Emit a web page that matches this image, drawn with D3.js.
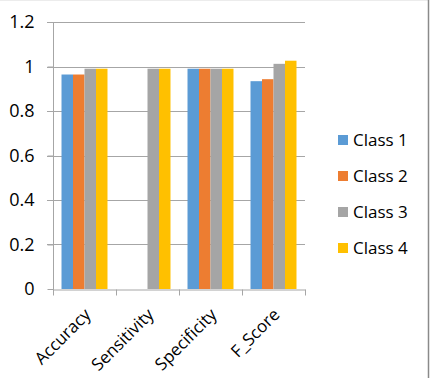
<!DOCTYPE html>
<html lang="en">
<head>
    <meta charset="UTF-8">
    <title>Class metrics</title>
    <script src="https://d3js.org/d3.v7.min.js"></script>
    <style>
        body {
            margin: 0;
            background: #fff;
            font-family: 'Open Sans', 'Noto Sans', sans-serif;
        }
        text { fill: #000; }
    </style>
</head>
<body>
    <svg width="430" height="378"></svg>
    <script>
        // chart data
        const categories = ["Accuracy", "Sensitivity", "Specificity", "F_Score"];
        const seriesNames = ["Class 1", "Class 2", "Class 3", "Class 4"];
        const class1 = [0.964, 0, 0.99, 0.934];
        const class2 = [0.964, 0, 0.99, 0.943];
        const class3 = [0.99, 0.99, 0.99, 1.012];
        const class4 = [0.99, 0.99, 0.99, 1.026];
        const yTicks = [0, 0.2, 0.4, 0.6, 0.8, 1, 1.2];
        const colors = ["#5B9BD5", "#ED7D31", "#A5A5A5", "#FFC000"];

        const series = [class1, class2, class3, class4];

        const svg = d3.select("svg");
        const margin = {left: 53, right: 125, top: 22, bottom: 89};
        const width = 430, height = 378;

        // outer frame
        svg.append("line")
            .attr("x1", 0).attr("x2", 428).attr("y1", 0.5).attr("y2", 0.5)
            .attr("stroke", "#ececec");
        svg.append("line")
            .attr("x1", 428.5).attr("x2", 428.5).attr("y1", 0).attr("y2", height)
            .attr("stroke", "#8a8a8a").attr("stroke-width", 1.5);

        const x = d3.scaleBand()
            .domain(categories)
            .range([margin.left, width - margin.right]);

        const xInner = d3.scaleBand()
            .domain(seriesNames)
            .range([0, x.bandwidth()])
            .paddingOuter(0.74);

        const y = d3.scaleLinear()
            .domain([0, 1.2])
            .range([height - margin.bottom, margin.top]);

        // gridlines
        svg.append("g")
            .selectAll("line")
            .data(yTicks.slice(1))
            .join("line")
            .attr("x1", margin.left - 6)
            .attr("x2", width - margin.right)
            .attr("y1", d => Math.round(y(d)) + 0.5)
            .attr("y2", d => Math.round(y(d)) + 0.5)
            .attr("stroke", "#a6a6a6");

        // bars
        const groups = svg.append("g")
            .selectAll("g")
            .data(series)
            .join("g")
            .attr("fill", (d, i) => colors[i]);

        groups.selectAll("rect")
            .data((vals, i) => vals.map((v, j) => ({v, cat: categories[j], s: seriesNames[i]})))
            .join("rect")
            .attr("x", d => x(d.cat) + xInner(d.s))
            .attr("width", xInner.bandwidth())
            .attr("y", d => y(d.v))
            .attr("height", d => y(0) - y(d.v));

        // y axis
        const yAxis = svg.append("g")
            .attr("transform", `translate(${margin.left + 0.5},0)`)
            .call(d3.axisLeft(y).tickValues(yTicks).tickSize(6).tickPadding(13).tickFormat(d3.format("")));
        yAxis.select(".domain").attr("stroke", "#a6a6a6").attr("d", `M0,${margin.top}V${height - margin.bottom + 6}`);
        yAxis.selectAll(".tick line").attr("stroke", "#a6a6a6");
        yAxis.selectAll(".tick text")
            .style("font-size", "18px")
            .style("font-family", "'Open Sans', sans-serif");

        // x axis
        const xAxis = svg.append("g")
            .attr("transform", `translate(0,${Math.round(y(0)) + 0.5})`)
            .call(d3.axisBottom(x).tickSize(0).tickPadding(0));
        xAxis.select(".domain").attr("stroke", "#a6a6a6");
        xAxis.selectAll(".tick line").remove();
        xAxis.selectAll(".sep")
            .data(categories.concat(["end"]))
            .join("line")
            .attr("x1", (d, i) => i < categories.length ? x(d) + 0.5 : x(categories[3]) + x.bandwidth() + 0.5)
            .attr("x2", (d, i) => i < categories.length ? x(d) + 0.5 : x(categories[3]) + x.bandwidth() + 0.5)
            .attr("y1", 0).attr("y2", 6)
            .attr("stroke", "#a6a6a6");
        xAxis.selectAll(".tick text")
            .style("font-size", "17px")
            .style("font-family", "'Open Sans', sans-serif")
            .attr("text-anchor", "end")
            .attr("dy", "0.35em")
            .attr("transform", "translate(3,22) rotate(-45)");

        // legend
        const legend = svg.append("g")
            .selectAll("g")
            .data(seriesNames)
            .join("g")
            .attr("transform", (d, i) => `translate(338,${140 + i * 36})`);
        legend.append("rect")
            .attr("x", 0).attr("y", -5)
            .attr("width", 10).attr("height", 10)
            .attr("fill", (d, i) => colors[i]);
        legend.append("text")
            .attr("x", 15)
            .attr("dy", "0.35em")
            .style("font-size", "17px")
            .text(d => d);
    </script>
</body>
</html>
